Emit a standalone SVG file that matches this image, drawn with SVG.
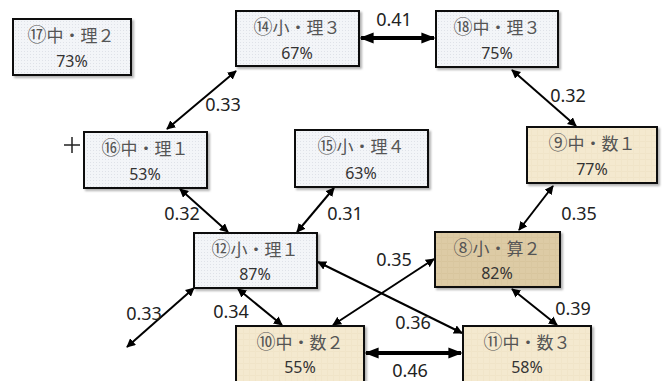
<svg xmlns="http://www.w3.org/2000/svg" width="664" height="381" viewBox="0 0 664 381">
<defs>
<pattern id="dots" width="3" height="3" patternUnits="userSpaceOnUse">
<rect width="3" height="3" fill="#f3f5f8"/>
<rect width="1" height="1" fill="#dfe2e8"/>
</pattern>
<pattern id="paper" width="6" height="6" patternUnits="userSpaceOnUse">
<rect width="6" height="6" fill="#f4e9cf"/>
<rect x="0" y="3" width="6" height="1" fill="#f0e4c8"/>
<rect x="3" y="0" width="1" height="6" fill="#f1e5c9"/>
</pattern>
<pattern id="paper2" width="6" height="6" patternUnits="userSpaceOnUse">
<rect width="6" height="6" fill="#ddcba5"/>
<rect x="0" y="3" width="6" height="1" fill="#d8c59d"/>
<rect x="3" y="0" width="1" height="6" fill="#d9c7a0"/>
</pattern>
<filter id="sh" x="-10%" y="-10%" width="125%" height="130%">
<feDropShadow dx="2" dy="2" stdDeviation="1.2" flood-color="#000" flood-opacity="0.3"/>
</filter>
<marker id="ah" viewBox="0 0 10 10" refX="9" refY="5" markerWidth="9" markerHeight="9" markerUnits="userSpaceOnUse" orient="auto-start-reverse">
<path d="M0,0 L10,5 L0,10 Z" fill="#000"/>
</marker>
<marker id="ahb" viewBox="0 0 10 10" refX="9" refY="5" markerWidth="14" markerHeight="14" markerUnits="userSpaceOnUse" orient="auto-start-reverse">
<path d="M0,1 L10,5 L0,9 Z" fill="#000"/>
</marker>
</defs>
<style>
.box{stroke:#111;stroke-width:2;filter:url(#sh)}
.b{fill:url(#dots)}
.y{fill:url(#paper)}
.d{fill:url(#paper2)}
.t1{font-family:"Noto Sans CJK JP","Noto Sans",sans-serif;font-size:17px;fill:#555;text-anchor:middle}
.n{font-size:19px}
.t2{font-family:"Noto Sans","Liberation Sans",sans-serif;font-size:16px;fill:#333;text-anchor:middle}
.lb{font-family:"Noto Sans","Liberation Sans",sans-serif;font-size:18px;fill:#222;text-anchor:middle}
.c{stroke:#000;stroke-width:2;fill:none;marker-start:url(#ah);marker-end:url(#ah)}
.cb{stroke:#000;stroke-width:4;fill:none;marker-start:url(#ahb);marker-end:url(#ahb)}
</style>

<g id="connectors">
<line class="cb" x1="361" y1="38" x2="434" y2="38"/>
<line class="c" x1="512" y1="70" x2="576" y2="126"/>
<line class="c" x1="553" y1="186" x2="519" y2="230"/>
<line class="c" x1="236" y1="71" x2="167" y2="129"/>
<line class="c" x1="180" y1="189" x2="228" y2="232"/>
<line class="c" x1="334" y1="188" x2="297" y2="232"/>
<line class="c" x1="318" y1="262" x2="462" y2="333"/>
<line class="c" x1="434" y1="259" x2="333" y2="325"/>
<line class="c" x1="238" y1="289" x2="282" y2="325"/>
<line class="c" x1="194" y1="288" x2="127" y2="347"/>
<line class="c" x1="512" y1="289" x2="557" y2="325"/>
<line class="cb" x1="366" y1="353" x2="461" y2="353"/>
<text class="lb" x="394" y="26">0.41</text>
<text class="lb" x="568" y="102">0.32</text>
<text class="lb" x="579" y="220">0.35</text>
<text class="lb" x="223" y="111">0.33</text>
<text class="lb" x="182" y="220">0.32</text>
<text class="lb" x="345" y="220">0.31</text>
<text class="lb" x="394" y="266">0.35</text>
<text class="lb" x="231" y="318">0.34</text>
<text class="lb" x="144" y="320">0.33</text>
<text class="lb" x="413" y="329">0.36</text>
<text class="lb" x="573" y="315">0.39</text>
<text class="lb" x="410" y="377">0.46</text>
<path d="M64,145 H80 M72,137 V153" stroke="#222" stroke-width="1.5" fill="none"/>
</g>

<g id="n17"><rect class="box b" x="13" y="19" width="118" height="56"/>
<text class="t1" x="71" y="42"><tspan class="n">⑰</tspan>中・理２</text><text class="t2" x="72" y="67">73%</text></g>

<g id="n14"><rect class="box b" x="236" y="11" width="123" height="55"/>
<text class="t1" x="297" y="34"><tspan class="n">⑭</tspan>小・理３</text><text class="t2" x="297" y="59">67%</text></g>

<g id="n18"><rect class="box b" x="436" y="11" width="122" height="56"/>
<text class="t1" x="497" y="34"><tspan class="n">⑱</tspan>中・理３</text><text class="t2" x="497" y="59">75%</text></g>

<g id="n16"><rect class="box b" x="84" y="132" width="123" height="56"/>
<text class="t1" x="145" y="155"><tspan class="n">⑯</tspan>中・理１</text><text class="t2" x="145" y="180">53%</text></g>

<g id="n15"><rect class="box b" x="295" y="130" width="133" height="57"/>
<text class="t1" x="361" y="153"><tspan class="n">⑮</tspan>小・理４</text><text class="t2" x="361" y="179">63%</text></g>

<g id="n9"><rect class="box y" x="527" y="127" width="130" height="56"/>
<text class="t1" x="592" y="150"><tspan class="n">⑨</tspan>中・数１</text><text class="t2" x="592" y="175">77%</text></g>

<g id="n12"><rect class="box b" x="194" y="233" width="123" height="55"/>
<text class="t1" x="255" y="256"><tspan class="n">⑫</tspan>小・理１</text><text class="t2" x="255" y="280">87%</text></g>

<g id="n8"><rect class="box d" x="435" y="232" width="125" height="55"/>
<text class="t1" x="497" y="255"><tspan class="n">⑧</tspan>小・算２</text><text class="t2" x="497" y="279">82%</text></g>

<g id="n10"><rect class="box y" x="236" y="326" width="128" height="60"/>
<text class="t1" x="300" y="349"><tspan class="n">⑩</tspan>中・数２</text><text class="t2" x="300" y="373">55%</text></g>

<g id="n11"><rect class="box y" x="463" y="326" width="128" height="60"/>
<text class="t1" x="527" y="349"><tspan class="n">⑪</tspan>中・数３</text><text class="t2" x="527" y="373">58%</text></g>
</svg>
